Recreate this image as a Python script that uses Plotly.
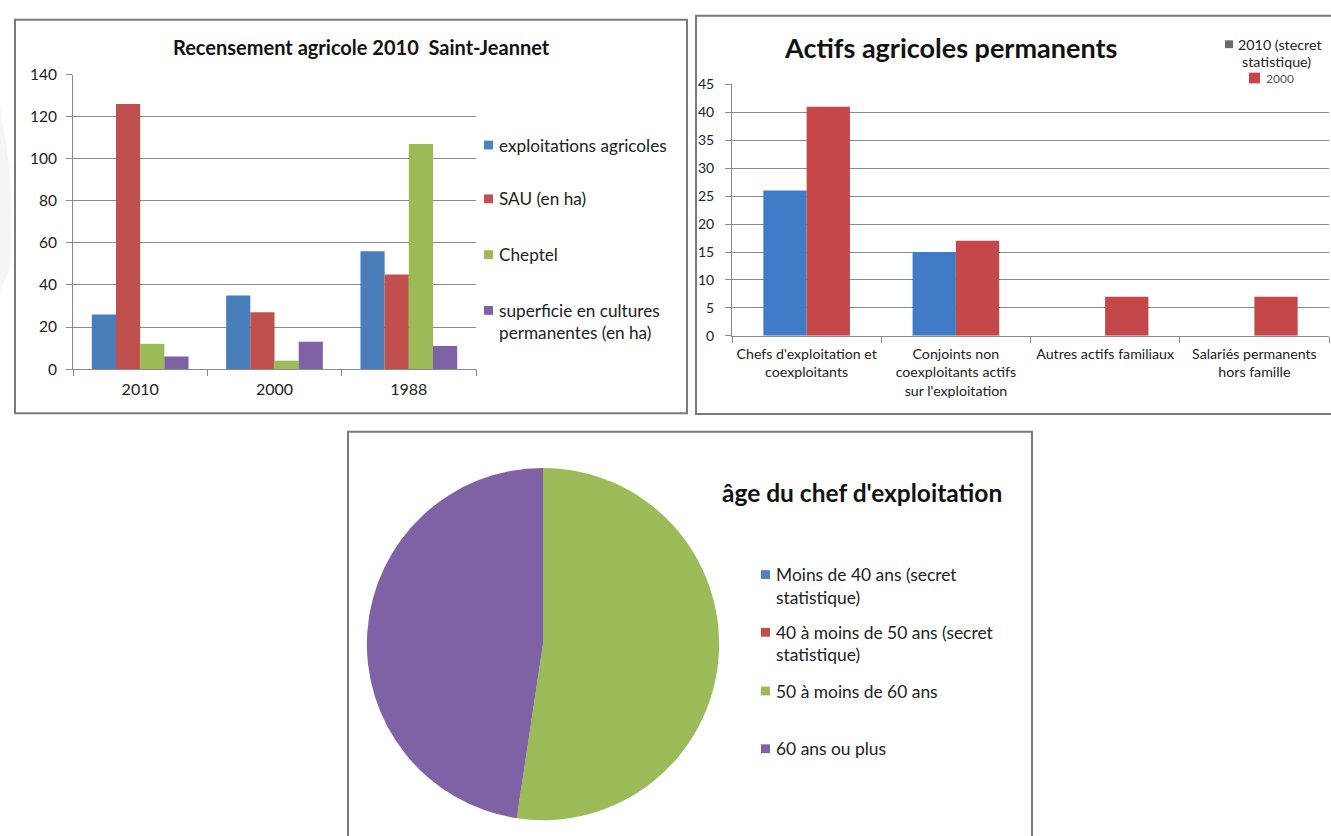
import plotly.graph_objects as go

W, H = 1331, 836
FONT = "Lato"

# --- Recensement agricole 2010 Saint-Jeannet ---
years = ["2010", "2000", "1988"]
series1_names = ["exploitations agricoles", "SAU (en ha)", "Cheptel",
                 "superficie en cultures<br>permanentes (en ha)"]
exploitations = [26, 35, 56]
sau = [126, 27, 45]
cheptel = [12, 4, 107]
cultures_perm = [6, 13, 11]
series1_colors = ["#4a7ebb", "#c0504d", "#9bbb59", "#7f62a6"]

# --- Actifs agricoles permanents ---
actifs_cats = ["Chefs d'exploitation et<br>coexploitants",
               "Conjoints non<br>coexploitants actifs<br>sur l'exploitation",
               "Autres actifs familiaux",
               "Salariés permanents<br>hors famille"]
actifs_2010 = [26, 15, None, None]
actifs_2000 = [41, 17, 7, 7]
actifs_names = ["2010 (stecret<br>statistique)", "2000"]

# --- âge du chef d'exploitation ---
age_labels = ["Moins de 40 ans (secret<br>statistique)",
              "40 à moins de 50 ans (secret<br>statistique)",
              "50 à moins de 60 ans",
              "60 ans ou plus"]
age_values = [0, 0, 11, 10]
age_colors = ["#4a7ebb", "#c0504d", "#9bbb59", "#7f62a6"]


def fx(p):
    return p / W


def fy(p):
    return 1 - p / H


GRID = "#8a8a8a"
TXT = "#222222"

fig = go.Figure()

# grouped bars, chart 1 (4 bars per year)
w1 = 0.18
for i, (name, vals, col) in enumerate(zip(series1_names,
                                          [exploitations, sau, cheptel, cultures_perm],
                                          series1_colors)):
    fig.add_trace(go.Bar(x=years, y=vals, name=name.replace("<br>", " "),
                         marker=dict(color=col, line=dict(width=0)),
                         width=w1, offset=-2 * w1 + i * w1,
                         xaxis="x", yaxis="y", showlegend=False))

# grouped bars, chart 2
w2 = 0.29
for i, (name, vals, col) in enumerate(zip(actifs_names, [actifs_2010, actifs_2000],
                                          ["#3f7bc6", "#c4474a"])):
    fig.add_trace(go.Bar(x=actifs_cats, y=vals, name=name.replace("<br>", " "),
                         marker=dict(color=col, line=dict(width=0)),
                         width=w2, offset=-w2 + i * w2,
                         xaxis="x2", yaxis="y2", showlegend=False))

# pie chart
fig.add_trace(go.Pie(labels=[l.replace("<br>", " ") for l in age_labels], values=age_values,
                     marker=dict(colors=age_colors, line=dict(width=0)),
                     sort=False, direction="clockwise", rotation=0,
                     textinfo="none", hoverinfo="label+value", showlegend=False,
                     domain=dict(x=[fx(363), fx(723)], y=[fy(828), fy(468)])))

axis_common = dict(showline=True, linecolor=GRID, linewidth=1, ticks="outside",
                   tickcolor=GRID, ticklen=6, zeroline=False, fixedrange=True)

fig.update_layout(
    width=W, height=H, margin=dict(l=0, r=0, t=0, b=0),
    paper_bgcolor="white", plot_bgcolor="rgba(0,0,0,0)",
    barmode="overlay", showlegend=False,
    font=dict(family=FONT, color=TXT),
    xaxis=dict(domain=[fx(73), fx(476)], type="category", tickson="boundaries",
               showgrid=False, tickfont=dict(size=16, color=TXT), ticklabelstandoff=6,
               tickangle=0, **axis_common),
    yaxis=dict(domain=[fy(367), fy(66)], range=[0, 140], dtick=20,
               showgrid=True, gridcolor=GRID, gridwidth=1,
               tickfont=dict(size=15.5, color=TXT), ticklabelstandoff=6, **axis_common),
    xaxis2=dict(domain=[fx(732), fx(1329)], type="category", tickson="boundaries",
                anchor="y2", showgrid=False, tickfont=dict(size=14.2, color=TXT),
                ticklabelstandoff=5, tickangle=0, **axis_common),
    yaxis2=dict(domain=[fy(333), fy(76)], range=[0, 45], dtick=5, anchor="x2",
                showgrid=True, gridcolor=GRID, gridwidth=1,
                tickfont=dict(size=14, color=TXT), ticklabelstandoff=8, **axis_common),
)

shapes = []
annotations = []

# panel frames
frame = dict(type="rect", xref="paper", yref="paper",
             line=dict(color="#7a7a7a", width=2), fillcolor="rgba(0,0,0,0)", layer="below")
shapes.append(dict(frame, x0=fx(15), x1=fx(687), y0=fy(412), y1=fy(10)))
shapes.append(dict(frame, x0=fx(696), x1=fx(1340), y0=fy(413), y1=fy(6)))
shapes.append(dict(frame, x0=fx(348), x1=fx(1032), y0=fy(850), y1=fy(431)))

# faint decorative arc at the left edge
shapes.append(dict(type="path", xref="paper", yref="paper", layer="below",
                   path=f"M 0,{fy(100)} Q {fx(16)},{fy(180)} {fx(10)},{fy(262)} L 0,{fy(290)} Z",
                   fillcolor="#f5f5f5", line=dict(width=0)))


def title(text, x, y, size, anchor="center"):
    annotations.append(dict(text=f"<b>{text}</b>", x=fx(x), y=fy(y), xref="paper",
                            yref="paper", xanchor=anchor, yanchor="middle",
                            showarrow=False, font=dict(size=size, color="#111111")))


def legend_item(label, color, mx, tx, y0, gap, size, msize=9):
    shapes.append(dict(type="rect", xref="paper", yref="paper",
                       x0=fx(mx), x1=fx(mx + msize), y0=fy(y0 + msize / 2),
                       y1=fy(y0 - msize / 2), fillcolor=color, line=dict(width=0)))
    for k, line in enumerate(label.split("<br>")):
        annotations.append(dict(text=line, x=fx(tx), y=fy(y0 + k * gap), xref="paper",
                                yref="paper", xanchor="left", yanchor="middle",
                                showarrow=False, font=dict(size=size, color=TXT)))


title("Recensement agricole 2010  Saint-Jeannet", 361, 38, 20)
for name, col, yy in zip(series1_names, ["#4f81bd", "#c0504d", "#9bbb59", "#8064a2"],
                         [138, 193, 250, 307]):
    legend_item(name, col, 484, 497, yy, 23, 17.2)

title("Actifs agricoles permanents", 950, 38, 27)
# legend of chart 2
shapes.append(dict(type="rect", xref="paper", yref="paper", x0=fx(1225), x1=fx(1233),
                   y0=fy(39), y1=fy(31), fillcolor="#6b6b6b", line=dict(width=0)))
l2010 = actifs_names[0].split("<br>")
annotations.append(dict(text=l2010[0], x=fx(1236), y=fy(35), xref="paper", yref="paper",
                        xanchor="left", yanchor="middle", showarrow=False,
                        font=dict(size=14.3, color=TXT)))
annotations.append(dict(text=l2010[1], x=fx(1276), y=fy(53), xref="paper", yref="paper",
                        xanchor="center", yanchor="middle", showarrow=False,
                        font=dict(size=14.3, color=TXT)))
shapes.append(dict(type="rect", xref="paper", yref="paper", x0=fx(1249), x1=fx(1260),
                   y0=fy(75), y1=fy(64), fillcolor="#c4474a", line=dict(width=0)))
annotations.append(dict(text=actifs_names[1], x=fx(1264), y=fy(70), xref="paper",
                        yref="paper", xanchor="left", yanchor="middle", showarrow=False,
                        font=dict(size=12, color="#555555")))

title("âge du chef d'exploitation", 720, 493, 24.5, anchor="left")
for name, col, yy in zip(age_labels, ["#4f81bd", "#c0504d", "#9bbb59", "#8064a2"],
                         [577, 636, 696, 755]):
    legend_item(name, col, 761, 774, yy, 23, 17.4)

fig.update_layout(shapes=shapes, annotations=annotations)

fig.write_html("out.html")
